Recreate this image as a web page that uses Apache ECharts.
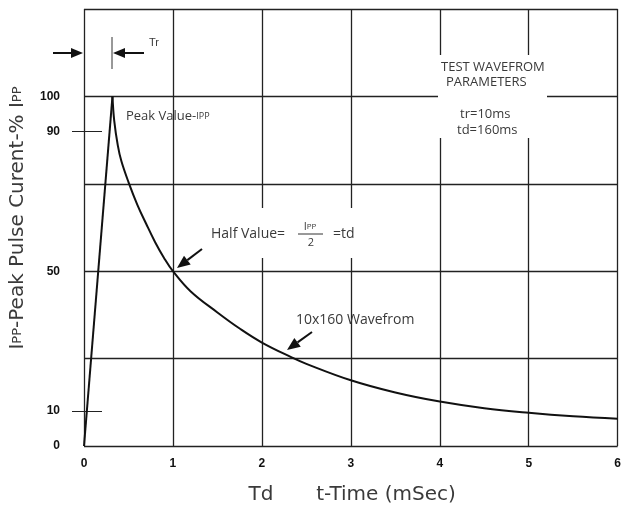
<!DOCTYPE html>
<html>
<head>
<meta charset="utf-8">
<script src="https://cdn.jsdelivr.net/npm/echarts@6/dist/echarts.min.js"></script>
<style>html,body{margin:0;padding:0;background:#fff}#c{width:624px;height:508px}</style>
</head>
<body>
<div id="c"></div>
<script>
// ---- data ----
const riseData = [[0, 0], [0.32, 100]];
const decayData = [[0.32, 100], [0.34, 93], [0.38, 86], [0.42, 81.5], [0.5, 75.5], [0.6, 69], [0.7, 63.5], [0.8, 58.3],
  [0.9, 53.8], [1.0, 50], [1.2, 44.2], [1.5, 38.2], [1.75, 33.6], [2, 29.6], [2.34, 25.3], [2.5, 23.5], [3, 18.8],
  [3.5, 15.3], [4, 12.7], [4.5, 10.8], [5, 9.5], [5.5, 8.5], [6, 7.8]];
const yLabelValues = [0, 10, 50, 90, 100];
const yMarkValues = [10, 90];
const xTickValues = [0, 1, 2, 3, 4, 5, 6];

const GRID = '#222';
const TXT = '#3a3a3a';
const ANN = "'Open Sans', sans-serif";
const NAMEF = "'DejaVu Sans', sans-serif";
const TICKF = "'Liberation Sans', Arial, sans-serif";

function arrow(x1, y1, x2, y2, len, hw) {
  const dx = x2 - x1, dy = y2 - y1, L = Math.sqrt(dx * dx + dy * dy);
  const ux = dx / L, uy = dy / L, px = -uy, py = ux;
  const bx = x2 - ux * len, by = y2 - uy * len;
  return [
    { type: 'line', z: 60, shape: { x1: x1, y1: y1, x2: bx, y2: by }, style: { stroke: '#111', lineWidth: 2 } },
    { type: 'polygon', z: 60, shape: { points: [[x2, y2], [bx + px * hw, by + py * hw], [bx - px * hw, by - py * hw]] }, style: { fill: '#111' } }
  ];
}

const chart = echarts.init(document.getElementById('c'), null, { renderer: 'canvas' });
const baseY = { type: 'value', min: 0, max: 125, interval: 25, position: 'left', axisLine: { show: false } };
const option = {
  backgroundColor: '#fff',
  animation: false,
  grid: { left: 84, right: 3, top: 9, bottom: 62 },
  xAxis: {
    type: 'value', min: 0, max: 6, interval: 1,
    axisLine: { show: false },
    axisTick: { show: false },
    splitLine: { show: true, lineStyle: { color: GRID, width: 1.3 } },
    axisLabel: { margin: 12, color: '#111', fontFamily: TICKF, fontWeight: 'bold', fontSize: 12 }
  },
  yAxis: [
    Object.assign({}, baseY, {
      axisTick: { show: false },
      splitLine: { show: true, lineStyle: { color: GRID, width: 1.3 } },
      axisLabel: { show: false }
    }),
    Object.assign({}, baseY, {
      axisTick: { show: true, customValues: yMarkValues, length: 12, lineStyle: { color: GRID, width: 1 } },
      splitLine: { show: false },
      axisLabel: { margin: 24, color: '#111', fontFamily: TICKF, fontWeight: 'bold', fontSize: 12, customValues: yLabelValues }
    }),
    Object.assign({}, baseY, {
      axisTick: { show: true, inside: true, customValues: yMarkValues, length: 18, lineStyle: { color: GRID, width: 1 } },
      splitLine: { show: false },
      axisLabel: { show: false }
    })
  ],
  series: [{
    type: 'line', data: riseData, showSymbol: false, symbol: 'none', z: 5,
    lineStyle: { color: '#111', width: 2 }
  }, {
    type: 'line', data: decayData, showSymbol: false, symbol: 'none', smooth: 0.4, z: 5,
    lineStyle: { color: '#111', width: 2 }
  }],
  graphic: [
    { type: 'rect', z: 50, shape: { x: 438, y: 55, width: 109, height: 83 }, style: { fill: '#fff' } },
    { type: 'rect', z: 50, shape: { x: 205, y: 208, width: 155, height: 50 }, style: { fill: '#fff' } },
    ...arrow(53, 53, 83, 53, 12, 5),
    ...arrow(144, 53, 113, 53, 12, 5),
    { type: 'line', z: 60, shape: { x1: 112, y1: 37, x2: 112, y2: 69 }, style: { stroke: '#333', lineWidth: 1 } },
    { type: 'text', z: 60, x: 149, y: 43, style: { text: 'Tr', font: "11px 'Liberation Sans Narrow', 'Liberation Sans', sans-serif", fill: TXT, verticalAlign: 'middle' } },
    { type: 'text', z: 60, x: 126, y: 116, style: {
      text: '{a|Peak Value-}{b|IPP}', verticalAlign: 'middle',
      rich: { a: { fontFamily: ANN, fontSize: 13, fill: TXT }, b: { fontFamily: ANN, fontSize: 9, fill: TXT } } } },
    { type: 'text', z: 60, x: 441, y: 67, style: { text: 'TEST WAVEFROM', font: "13px " + ANN, fill: TXT, verticalAlign: 'middle' } },
    { type: 'text', z: 60, x: 446, y: 82, style: { text: 'PARAMETERS', font: "13px " + ANN, fill: TXT, verticalAlign: 'middle' } },
    { type: 'text', z: 60, x: 460, y: 114, style: { text: 'tr=10ms', font: "13px " + ANN, fill: TXT, verticalAlign: 'middle' } },
    { type: 'text', z: 60, x: 457, y: 130, style: { text: 'td=160ms', font: "13px " + ANN, fill: TXT, verticalAlign: 'middle' } },
    { type: 'text', z: 60, x: 211, y: 234, style: { text: 'Half Value=', font: "14px " + ANN, fill: TXT, verticalAlign: 'middle' } },
    { type: 'text', z: 60, x: 310, y: 227, style: {
      text: '{a|I}{b|PP}', align: 'center', verticalAlign: 'middle',
      rich: { a: { fontFamily: ANN, fontSize: 11, fill: TXT }, b: { fontFamily: ANN, fontSize: 8, fill: TXT } } } },
    { type: 'line', z: 60, shape: { x1: 298, y1: 234, x2: 323, y2: 234 }, style: { stroke: '#333', lineWidth: 1 } },
    { type: 'text', z: 60, x: 311, y: 243, style: { text: '2', font: "11px " + ANN, fill: TXT, align: 'center', verticalAlign: 'middle' } },
    { type: 'text', z: 60, x: 333, y: 234, style: { text: '=td', font: "14px " + ANN, fill: TXT, verticalAlign: 'middle' } },
    ...arrow(202, 249, 177, 268, 13, 5.5),
    { type: 'text', z: 60, x: 296, y: 320, style: { text: '10x160 Wavefrom', font: "14px " + ANN, fill: TXT, verticalAlign: 'middle' } },
    ...arrow(312, 332, 287, 350, 13, 5.5),
    { type: 'text', z: 60, x: 18, y: 218, rotation: Math.PI / 2, style: {
      text: '{a|I}{b|PP}{a|-Peak Pulse Curent-% I}{b|PP}', align: 'center', verticalAlign: 'middle',
      rich: { a: { fontFamily: NAMEF, fontSize: 20, fill: '#3a3a3a' }, b: { fontFamily: NAMEF, fontSize: 13, fill: '#3a3a3a' } } } },
    { type: 'text', z: 60, x: 261, y: 495, style: { text: 'Td', font: "20px " + NAMEF, fill: '#3a3a3a', align: 'center', verticalAlign: 'middle' } },
    { type: 'text', z: 60, x: 386, y: 495, style: { text: 't-Time (mSec)', font: "20px " + NAMEF, fill: '#3a3a3a', align: 'center', verticalAlign: 'middle' } }
  ]
};
chart.setOption(option);
</script>
</body>
</html>
